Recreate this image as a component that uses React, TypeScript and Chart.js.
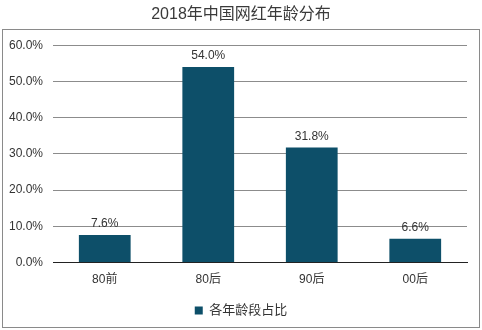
import React, { useEffect, useRef } from "react";
import { Chart, registerables } from "chart.js";

Chart.register(...registerables);

const categories = ["80前", "80后", "90后", "00后"];
const shares = [7.6, 54.0, 31.8, 6.6];
const seriesName = "各年龄段占比";
const chartTitle = "2018年中国网红年龄分布";

const FONT = "'Liberation Sans', 'Noto Sans CJK SC', sans-serif";
const BAR = "#0d4f69";

const frame = {
  id: "frame",
  beforeDraw(chart: any) {
    const { ctx, width, height } = chart;
    ctx.save();
    ctx.fillStyle = "#ffffff";
    ctx.fillRect(0, 0, width, height);
    ctx.strokeStyle = "#8a8a8a";
    ctx.lineWidth = 1;
    ctx.strokeRect(2.5, 29.5, width - 5, height - 32);
    ctx.restore();
  },
};

const valueLabels = {
  id: "valueLabels",
  afterDatasetsDraw(chart: any) {
    const { ctx } = chart;
    const meta = chart.getDatasetMeta(0);
    ctx.save();
    ctx.font = `12px ${FONT}`;
    ctx.fillStyle = "#333333";
    ctx.textAlign = "center";
    ctx.textBaseline = "bottom";
    meta.data.forEach((el: any, i: number) => {
      ctx.fillText(shares[i].toFixed(1) + "%", el.x, el.y - 5);
    });
    ctx.restore();
  },
};

export default function App() {
  const ref = useRef<HTMLCanvasElement>(null);
  useEffect(() => {
    const chart = new Chart(ref.current!, {
      type: "bar",
      data: {
        labels: categories,
        datasets: [
          {
            label: seriesName,
            data: shares,
            backgroundColor: BAR,
            borderWidth: 0,
            barPercentage: 0.5,
            categoryPercentage: 1,
          },
        ],
      },
      options: {
        animation: false,
        responsive: false,
        devicePixelRatio: 1,
        layout: { padding: { left: 0, right: 0, top: 0, bottom: 3 } },
        plugins: {
          title: {
            display: true,
            text: chartTitle,
            color: "#3a3a3a",
            font: { family: FONT, size: 16, weight: "normal" },
            padding: { top: 5, bottom: 21 },
          },
          legend: {
            position: "bottom",
            labels: {
              boxWidth: 8,
              boxHeight: 8,
              color: "#333333",
              font: { family: FONT, size: 13 },
              padding: 7,
            },
          },
          tooltip: { enabled: false },
        },
        scales: {
          x: {
            grid: { display: false, drawTicks: false },
            border: { display: true, color: "#222222" },
            ticks: { color: "#333333", font: { family: FONT, size: 12 }, padding: 10 },
          },
          y: {
            min: 0,
            max: 60,
            afterFit(scale: any) {
              scale.width = 53;
            },
            grid: { color: "#8c8c8c", drawTicks: false },
            border: { display: false },
            ticks: {
              stepSize: 10,
              padding: 10,
              color: "#333333",
              font: { family: FONT, size: 12 },
              callback: (v: any) => Number(v).toFixed(1) + "%",
            },
          },
          yRight: {
            position: "right",
            min: 0,
            max: 60,
            afterFit(scale: any) {
              scale.width = 15;
            },
            grid: { display: false, drawTicks: false },
            border: { display: false },
            ticks: { display: false },
          },
        },
      },
      plugins: [frame, valueLabels],
    });
    return () => chart.destroy();
  }, []);
  return (
    <div style={{ position: "absolute", left: 0, top: 0, width: 482, height: 330 }}>
      <canvas ref={ref} width={482} height={330} />
    </div>
  );
}
